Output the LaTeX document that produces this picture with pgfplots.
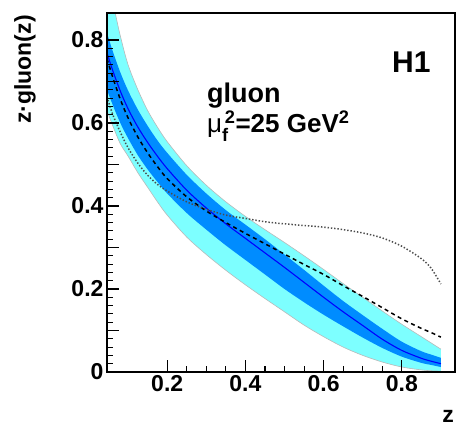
\documentclass[border=0pt]{standalone}
\usepackage{fontspec}
\setmainfont{Liberation Sans}
\usepackage{amsmath}
\usepackage{pgfplots}
\usepackage{pgfplotstable}
\pgfplotsset{compat=1.18}
\usepgfplotslibrary{fillbetween}

\definecolor{lightband}{RGB}{125,255,255}
\definecolor{darkband}{RGB}{0,140,255}

% z, light band up, dark band up, central, dark band low, light band low, dashed, dotted
\pgfplotstableread{
z     lu     du     c      dl     ll     dash   dot
0.046 0.950  0.817  0.769  0.680  0.630  0.755  0.663
0.060 0.895  0.775  0.728  0.645  0.595  0.712  0.622
0.080 0.810  0.722  0.677  0.600  0.550  0.657  0.578
0.100 0.740  0.678  0.634  0.563  0.520  0.612  0.540
0.125 0.680  0.632  0.590  0.522  0.480  0.566  0.503
0.150 0.630  0.593  0.553  0.488  0.445  0.528  0.474
0.175 0.590  0.558  0.520  0.458  0.410  0.495  0.452
0.200 0.555  0.528  0.490  0.430  0.378  0.466  0.436
0.250 0.497  0.475  0.438  0.383  0.325  0.422  0.410
0.300 0.450  0.430  0.395  0.343  0.283  0.388  0.392
0.350 0.410  0.390  0.357  0.305  0.245  0.360  0.378
0.400 0.375  0.355  0.322  0.270  0.210  0.334  0.370
0.450 0.343  0.320  0.287  0.235  0.177  0.309  0.362
0.500 0.312  0.283  0.252  0.200  0.145  0.284  0.357
0.550 0.280  0.246  0.216  0.168  0.113  0.259  0.353
0.600 0.247  0.208  0.180  0.138  0.085  0.235  0.349
0.650 0.213  0.171  0.145  0.110  0.060  0.208  0.343
0.700 0.180  0.137  0.112  0.083  0.040  0.182  0.335
0.750 0.147  0.104  0.079  0.058  0.024  0.155  0.323
0.800 0.115  0.073  0.052  0.037  0.012  0.128  0.303
0.850 0.085  0.050  0.033  0.022  0.005  0.105  0.273
0.875 0.070  0.042  0.026  0.017  0.003  0.095  0.250
0.900 0.055  0.034  0.020  0.012  0.002  0.084  0.212
}\gluon

\newcommand\tickfont{\bfseries\fontsize{23}{23}\selectfont}

\begin{document}
\begin{tikzpicture}
\path (0,0) rectangle (467pt,429pt);
\begin{axis}[
  at={(107pt,57pt)}, anchor=south west,
  scale only axis, width=348pt, height=359pt,
  xmin=0.046, xmax=0.936, ymin=0, ymax=0.865,
  xtick={0.2,0.4,0.6,0.8},
  xticklabels={0.2,0.4,0.6,0.8},
  minor x tick num=3,
  ytick={0,0.1,0.2,0.3,0.4,0.5,0.6,0.7,0.8},
  yticklabels={0,,0.2,,0.4,,0.6,,0.8},
  minor y tick num=4,
  xtick pos=bottom, ytick pos=left,
  tick align=inside,
  major tick length=12pt, minor tick length=6pt,
  every tick/.style={black, line width=1.1pt},
  axis line style={black, line width=1.1pt},
  tick label style={font=\tickfont},
  /pgf/number format/assume math mode=true,
  axis on top,
  xlabel={z}, ylabel={z·gluon(z)},
  label style={font=\tickfont, inner sep=0pt},
  xlabel style={at={(rel axis cs:0.997,-0.142)}, anchor=base east},
  ylabel style={at={(rel axis cs:-0.2356,0.994)}, anchor=east},
]
  \addplot[name path=lu, draw=gray!55, line width=0.6pt, smooth] table[x=z,y=lu]{\gluon};
  \addplot[name path=ll, draw=gray!55, line width=0.6pt, smooth] table[x=z,y=ll]{\gluon};
  \addplot[lightband] fill between[of=lu and ll];
  \addplot[name path=du, draw=none, smooth] table[x=z,y=du]{\gluon};
  \addplot[name path=dl, draw=none, smooth] table[x=z,y=dl]{\gluon};
  \addplot[darkband] fill between[of=du and dl];
  \addplot[blue, line width=1.1pt, smooth] table[x=z,y=c]{\gluon};
  \addplot[black, line width=1.5pt, dash pattern=on 4pt off 3.5pt, smooth] table[x=z,y=dash]{\gluon};
  \addplot[black!70, line width=1.5pt, dash pattern=on 1.4pt off 1.9pt, smooth] table[x=z,y=dot]{\gluon};

  \node[anchor=base west, inner sep=0pt, font=\bfseries\fontsize{27}{27}\selectfont]
    at (rel axis cs:0.287,0.752) {gluon};
  \node[anchor=base west, inner sep=0pt, font=\bfseries\fontsize{26}{26}\selectfont]
    at (rel axis cs:0.287,0.666) {{\mdseries μ}$_{\text{\bfseries f}}^{\,\text{\bfseries 2}}$=25 GeV$^{\text{\bfseries 2}}$};
  \node[anchor=base west, inner sep=0pt, font=\bfseries\fontsize{30}{30}\selectfont]
    at (rel axis cs:0.819,0.833) {H1};
\end{axis}
\end{tikzpicture}
\end{document}
